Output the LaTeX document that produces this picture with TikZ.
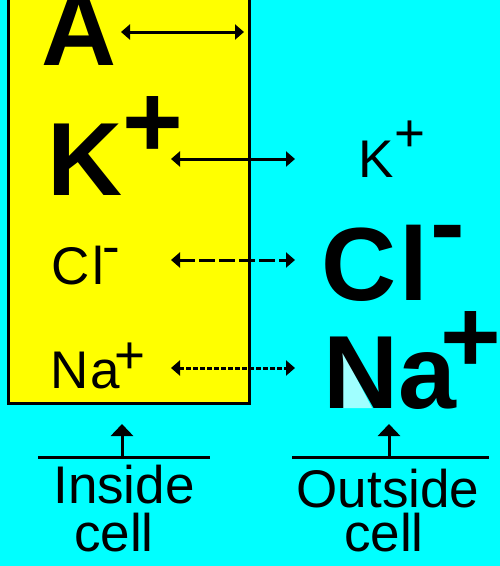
\documentclass[tikz,border=0pt]{standalone}
\usepackage{fontspec}
\setmainfont{Liberation Sans}
\usetikzlibrary{arrows.meta}
\definecolor{bgcyan}{HTML}{00FFFF}
\definecolor{cellyellow}{HTML}{FFFF00}
\definecolor{palecyan}{HTML}{A0FFFF}
\begin{document}
\begin{tikzpicture}[x=1pt,y=-1pt,
  big/.style={font=\fontsize{104}{104}\selectfont\bfseries, anchor=base west, inner sep=0pt},
  small/.style={font=\fontsize{53}{53}\selectfont, anchor=base west, inner sep=0pt},
  lbl/.style={font=\fontsize{53}{53}\selectfont, anchor=base, inner sep=0pt},
  link/.style={line width=3pt, {Triangle[length=9pt,width=15pt]}-{Triangle[length=9pt,width=15pt]}},
  upar/.style={line width=3pt, -{Triangle[length=12pt,width=22pt]}},
  bar/.style={line width=3pt}
]
\useasboundingbox (0,0) rectangle (500,566);
\fill[bgcyan] (0,0) rectangle (500,566);
\begin{scope}
  \clip (0,0) rectangle (500,566);
  \filldraw[fill=cellyellow, line width=3pt] (8,-10) rectangle (249.5,403);
\end{scope}
% pale counter inside the big N
\fill[palecyan] (342,350) -- (342,408) -- (372,408) -- cycle;

% ions
\node[big] (A) at (41,65) {A};
\node[big] (Kin) at (47,195) {K\kern0pt\raisebox{38pt}{+}};
\node[small] (Kout) at (358,177) {K\kern0.6pt\raisebox{26pt}{+}};
\node[small] (Clin) at (51,284) {C\kern3pt{}l\kern-1.5pt\raisebox{20pt}{-}};
\node[big] (Clout) at (321,300) {C\kern3pt{}l\kern2pt\raisebox{41.5pt}{-}};
\node[small] (Nain) at (50,388) {N\kern2pt{}a\kern-5pt\raisebox{15pt}{+}};
\node[big] (Naout) at (323,408) {Na\kern-16pt\raisebox{35.5pt}{+}};

% arrow end points
\coordinate (a1) at (121,32);  \coordinate (a2) at (244,32);
\coordinate (k1) at (171,159); \coordinate (k2) at (295,159);
\coordinate (c1) at (171,260); \coordinate (c2) at (295,260);
\coordinate (n1) at (171,368); \coordinate (n2) at (295,368);
\draw[link] (a1) -- (a2);
\draw[link] (k1) -- (k2);
\draw[link, dash pattern=on 16pt off 4pt] (c1) -- (c2);
\draw[link, dash pattern=on 5pt off 2pt] (n1) -- (n2);

% bottom labels
\coordinate (il1) at (38,457.5);  \coordinate (il2) at (210,457.5);
\coordinate (ib) at (122,457.5);  \coordinate (it) at (122,424);
\coordinate (ol1) at (292,457.5); \coordinate (ol2) at (489,457.5);
\coordinate (ob) at (389,457.5);  \coordinate (ot) at (389,424);
\draw[bar] (il1) -- (il2);
\draw[upar] (ib) -- (it);
\draw[bar] (ol1) -- (ol2);
\draw[upar] (ob) -- (ot);
\node[lbl] (in1) at (124,503) {Inside};
\node[lbl] (in2) at (114,551) {cell};
\node[lbl] (out1) at (388,507) {Outside};
\node[lbl] (out2) at (384,551) {cell};
\end{tikzpicture}
\end{document}
